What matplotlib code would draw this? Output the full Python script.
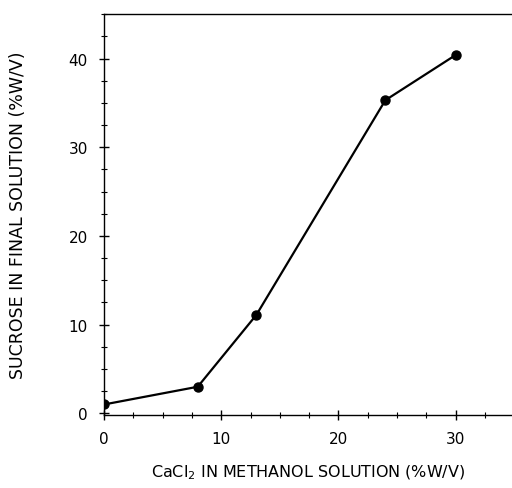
import matplotlib
matplotlib.use("Agg")
import matplotlib.pyplot as plt
from matplotlib.ticker import MultipleLocator

# CaCl2 in methanol (%w/v) vs sucrose in final solution (%w/v)
cacl2 = [0, 8, 13, 24, 30]
sucrose = [1.0, 3.0, 11.1, 35.3, 40.4]

x_ticks = [0, 10, 20, 30]
y_ticks = [0, 10, 20, 30, 40]

plt.rcParams['font.family'] = ['DejaVu Sans']

fig = plt.figure(figsize=(5.12, 4.89), dpi=100)
ax = fig.add_axes([0.203, 0.149, 0.797, 0.82])

ax.plot(cacl2, sucrose, color='black', linewidth=1.6,
        marker='o', markersize=6.5, markerfacecolor='black')

ax.set_xlim(0, 34.8)
ax.set_ylim(-0.2, 45)
ax.set_xticks(x_ticks)
ax.set_yticks(y_ticks)
ax.xaxis.set_minor_locator(MultipleLocator(2.5))
ax.yaxis.set_minor_locator(MultipleLocator(2.5))
ax.tick_params(which='major', direction='inout', length=7, width=1, labelsize=11, pad=8)
ax.tick_params(which='minor', direction='inout', length=4, width=0.8)

for side in ['left', 'bottom', 'top']:
    ax.spines[side].set_linewidth(1.0)
ax.spines['right'].set_visible(False)

ax.set_xlabel('CaCl$_2$ IN METHANOL SOLUTION (%W/V)', fontsize=11.5, labelpad=12)
ax.set_ylabel('SUCROSE IN FINAL SOLUTION (%W/V)', fontsize=12.5, labelpad=30)

fig.savefig('out.png', dpi=100)
